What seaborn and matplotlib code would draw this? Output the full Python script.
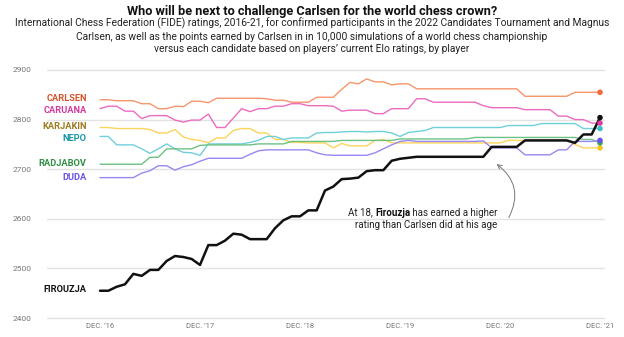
import numpy as np
import pandas as pd
import matplotlib
matplotlib.use("Agg")
import matplotlib.pyplot as plt
import seaborn as sns
from matplotlib.patches import FancyArrowPatch

# ---------------- data (monthly FIDE ratings, Dec 2016 .. Dec 2021) ----------------
months = list(range(61))

carlsen = ([2840, 2840, 2838, 2838, 2838, 2832, 2832, 2822, 2822, 2827, 2826, 2837, 2837,
            2834, 2843, 2843, 2843, 2843, 2843, 2843, 2842, 2839, 2839, 2835, 2835,
            2835, 2845, 2845, 2845, 2861, 2875, 2872, 2882, 2876, 2876, 2870, 2872,
            2872, 2862] + [2862] * 12 + [2847] * 6 + [2855] * 4)

caruana = ([2822, 2827, 2827, 2817, 2817, 2802, 2808, 2808, 2808, 2799, 2795, 2799, 2799,
            2811, 2784, 2784, 2803, 2822, 2816, 2822, 2822, 2827, 2827, 2832, 2832,
            2828, 2828, 2828, 2827, 2817, 2819, 2819, 2819, 2812, 2812, 2822, 2822,
            2822, 2842, 2842] + [2835] * 6 + [2828] + [2824] * 4 + [2820] * 4
           + [2807, 2807, 2800, 2800, 2793, 2793])

karjakin = ([2784, 2784, 2782, 2782, 2782, 2782, 2780, 2773, 2773, 2780, 2765, 2760, 2758,
             2753, 2763, 2763, 2778, 2782, 2782, 2773, 2773, 2760, 2760, 2754, 2754,
             2753, 2753, 2753, 2743, 2752, 2747, 2747, 2747, 2758, 2760]
            + [2753] * 14 + [2758] * 8 + [2750, 2743, 2743, 2743])

nepo = ([2766, 2766, 2749, 2749, 2749, 2741, 2732, 2741, 2751, 2741, 2734, 2733, 2728,
         2751, 2751, 2751, 2751, 2751, 2754, 2758, 2766, 2766, 2760, 2763, 2763,
         2763, 2773, 2774, 2774, 2775, 2776, 2776, 2775, 2776, 2776, 2773, 2766,
         2774, 2776, 2778] + [2784] * 9 + [2788] * 4 + [2792] * 5 + [2782] * 3)

radjabov = ([2710] * 6 + [2724, 2724] + [2741] * 4 + [2748] + [2749] * 6 + [2751] * 4
            + [2756] * 6 + [2758] * 7 + [2761] * 9 + [2764] * 13 + [2760, 2760, 2753])

duda = ([2683] * 5 + [2692, 2697, 2707, 2707, 2698, 2705, 2709, 2716] + [2722] * 5
        + [2730, 2737] + [2739] * 6 + [2733, 2729] + [2728] * 5
        + [2733, 2741, 2749, 2756, 2758] + [2756] * 8 + [2757] + [2743] * 4
        + [2729] * 4 + [2739, 2739] + [2756] * 3 + [2758])

firouzja = ([2455, 2455, 2463, 2468, 2489, 2485, 2497, 2497, 2515, 2525, 2523, 2519, 2507,
             2547, 2547, 2556, 2570, 2568, 2559, 2559, 2559, 2581, 2597, 2605, 2605,
             2617, 2617, 2657, 2665, 2680, 2681, 2683, 2696, 2698, 2698, 2717, 2721,
             2723] + [2725] * 9 + [2745] * 4 + [2758] * 6 + [2753, 2770, 2770, 2804])

players = ["CARLSEN", "CARUANA", "KARJAKIN", "NEPO", "RADJABOV", "DUDA", "FIROUZJA"]
series = [carlsen, caruana, karjakin, nepo, radjabov, duda, firouzja]

x_tick_pos = [0, 12, 24, 36, 48, 60]
x_tick_labels = ["DEC. \u201916", "DEC. \u201917", "DEC. \u201918",
                 "DEC. \u201919", "DEC. \u201920", "DEC. \u201921"]
y_ticks = [2400, 2500, 2600, 2700, 2800, 2900]

# ---------------- styles ----------------
line_colors = {"CARLSEN": "#f7956c", "CARUANA": "#ec6bc0", "KARJAKIN": "#fbd45a",
               "NEPO": "#6fd0da", "RADJABOV": "#6cc283", "DUDA": "#9a86f2",
               "FIROUZJA": "#111111"}
dot_colors = {"CARLSEN": "#f26a3a", "CARUANA": "#e03aa2", "KARJAKIN": "#f9c320",
              "NEPO": "#3cbecd", "RADJABOV": "#3aa957", "DUDA": "#6a50ee",
              "FIROUZJA": "#111111"}
label_colors = {"CARLSEN": "#d4532b", "CARUANA": "#d23a9d", "KARJAKIN": "#9c7a1e",
                "NEPO": "#1a97a6", "RADJABOV": "#2f8f43", "DUDA": "#6a4fe6",
                "FIROUZJA": "#111111"}
label_y = {"CARLSEN": 2842, "CARUANA": 2819, "KARJAKIN": 2787, "NEPO": 2761,
           "RADJABOV": 2712, "DUDA": 2683, "FIROUZJA": 2457}

df = pd.DataFrame({
    "month": np.tile(months, len(players)),
    "rating": np.concatenate([np.array(s, dtype=float) for s in series]),
    "player": np.repeat(players, len(months)),
})

sns.set_theme(style="white")
plt.rcParams["font.family"] = ["Roboto", "DejaVu Sans"]

W, H = 624, 337
fig = plt.figure(figsize=(W / 100, H / 100), dpi=100)
ax = fig.add_axes([47 / W, 1 - 320.5 / H, (605 - 47) / W, 253 / H])

others = df[df.player != "FIROUZJA"]
sns.lineplot(data=others, x="month", y="rating", hue="player",
             palette={k: v for k, v in line_colors.items() if k != "FIROUZJA"},
             linewidth=1.0, legend=False, ax=ax, zorder=3)
sns.lineplot(data=df[df.player == "FIROUZJA"], x="month", y="rating",
             color=line_colors["FIROUZJA"], linewidth=1.8, legend=False, ax=ax, zorder=4)

last = df[df.month == months[-1]]
sns.scatterplot(data=last, x="month", y="rating", hue="player", palette=dot_colors,
                s=16, linewidth=0, legend=False, ax=ax, zorder=5)

ax.set_xlim(-6.36, 60.6)
ax.set_ylim(2395, 2905)
for sp in ax.spines.values():
    sp.set_visible(False)
ax.set_yticks(y_ticks)
ax.set_yticklabels([str(v) for v in y_ticks], fontsize=6, color="#777777")
ax.set_xticks(x_tick_pos)
ax.set_xticklabels(x_tick_labels, fontsize=5.5, color="#777777")
ax.tick_params(axis="y", length=0, pad=11)
ax.tick_params(axis="x", length=0, pad=2)
ax.set_xlabel("")
ax.set_ylabel("")
ax.grid(False)
for v in y_ticks:
    ax.axhline(v, color="#e3e3e3", linewidth=1.0, zorder=1)

# player labels
for p in players:
    ax.text(-1.6, label_y[p], p, ha="right", va="center", fontsize=6.7,
            fontweight="bold", color=label_colors[p])

# titles
fig.text(0.5, 1 - 11 / H, "Who will be next to challenge Carlsen for the world chess crown?",
         ha="center", va="center", fontsize=9.2, fontweight="bold", color="#111111")
sub = ("International Chess Federation (FIDE) ratings, 2016-21, for confirmed participants in the 2022 Candidates Tournament and Magnus\n"
       "Carlsen, as well as the points earned by Carlsen in in 10,000 simulations of a world chess championship\n"
       "versus each candidate based on players\u2019 current Elo ratings, by player")
fig.text(0.5, 1 - 35.5 / H, sub, ha="center", va="center", fontsize=7.4, color="#222222",
         linespacing=1.25)

# annotation with bold name
fig.canvas.draw()
renderer = fig.canvas.get_renderer()
xr, y1, y2 = 497.5 / W, 1 - 212.5 / H, 1 - 224.5 / H
t3 = fig.text(xr, y1, " has earned a higher", ha="right", va="center", fontsize=7, color="#222222")
bb = t3.get_window_extent(renderer)
t2 = fig.text(bb.x0 / W, y1, "Firouzja", ha="right", va="center", fontsize=7,
              fontweight="bold", color="#111111")
bb2 = t2.get_window_extent(renderer)
fig.text(bb2.x0 / W, y1, "At 18, ", ha="right", va="center", fontsize=7, color="#222222")
fig.text(xr, y2, "rating than Carlsen did at his age", ha="right", va="center",
         fontsize=7, color="#222222")

arrow = FancyArrowPatch((507.5 / W, 1 - 220 / H), (494.5 / W, 1 - 162.5 / H),
                        transform=fig.transFigure, connectionstyle="arc3,rad=0.45",
                        arrowstyle="->,head_length=3,head_width=1.6",
                        color="#777777", linewidth=0.7)
fig.patches.append(arrow)

fig.savefig("out.png", dpi=100)
